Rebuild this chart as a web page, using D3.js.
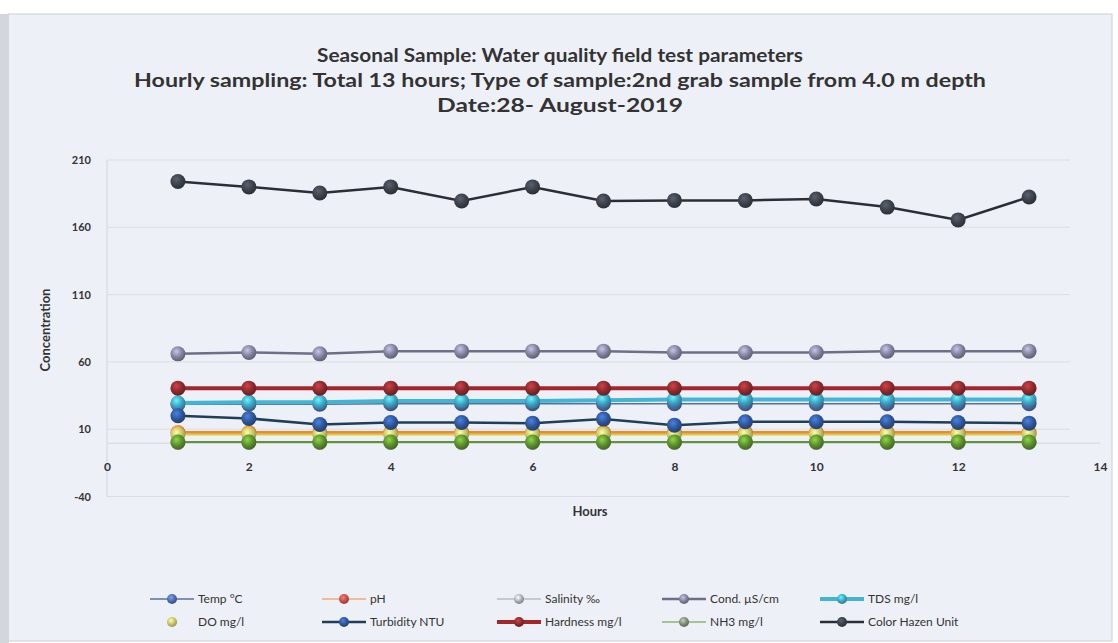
<!DOCTYPE html>
<html>
<head>
<meta charset="utf-8">
<script src="https://cdn.jsdelivr.net/npm/d3@7"></script>
<style>
  body { margin: 0; background: #ffffff; }
  text { font-family: "Lato", "Open Sans", sans-serif; fill: #333; }
</style>
</head>
<body>
<div id="chart"></div>
<script>
// chart data
var hours = [1, 2, 3, 4, 5, 6, 7, 8, 9, 10, 11, 12, 13];
var tempC = [28.5, 28.5, 28.5, 29, 29, 29, 29, 29, 29, 29, 29, 29, 29];
var pH = [7.5, 7.5, 7.5, 7.5, 7.5, 7.5, 7.5, 7.5, 7.5, 7.5, 7.5, 7.5, 7.5];
var salinity = [0.1, 0.1, 0.1, 0.1, 0.1, 0.1, 0.1, 0.1, 0.1, 0.1, 0.1, 0.1, 0.1];
var cond = [66, 67, 66, 68, 68, 68, 68, 67, 67, 67, 68, 68, 68];
var tds = [29.5, 30, 30, 31, 31, 31, 31.5, 32, 32, 32, 32, 32, 32];
var dissolvedO = [6, 6, 6, 6, 6, 6, 6, 6, 6, 6, 6, 6, 6];
var turbidity = [20, 18, 13.5, 15, 15, 14.5, 17.5, 13, 15.5, 15.5, 15.5, 15, 14.5];
var hardness = [40.5, 40.5, 40.5, 40.5, 40.5, 40.5, 40.5, 40.5, 40.5, 40.5, 40.5, 40.5, 40.5];
var nh3 = [0.5, 0.5, 0.5, 0.5, 0.5, 0.5, 0.5, 0.5, 0.5, 0.5, 0.5, 0.5, 0.5];
var colorHazen = [194, 190, 185.5, 190, 179.5, 190, 179.5, 180, 180, 181, 175, 165.5, 182.5];

var xTicks = [0, 2, 4, 6, 8, 10, 12, 14];
var yTicks = [-40, 10, 60, 110, 160, 210];

var titleLines = [
  "Seasonal Sample: Water quality field test parameters",
  "Hourly sampling: Total 13 hours; Type of sample:2nd grab sample from 4.0 m depth",
  "Date:28- August-2019"
];

// series list, drawn in this order (later on top)
var series = [
  { name: "Temp \u00b0C", values: tempC, line: "#5b6f99", marker: "#4f6aa6", width: 1.5 },
  { name: "pH", values: pH, line: "#f0892e", marker: "#f0892e", width: 3, legendMarker: "#c0504d", legendWidth: 1.2 },
  { name: "Salinity \u2030", values: salinity, line: "#b8bcc2", marker: "#a9adb3", width: 1.5 },
  { name: "Cond. \u00b5S/cm", values: cond, line: "#6e6f86", marker: "#80819a", width: 2.5 },
  { name: "TDS mg/l", values: tds, line: "#43b5d4", marker: "#3fa2c4", width: 4 },
  { name: "DO mg/l", values: dissolvedO, line: "#d6cf45", marker: "#c5c26a", width: 2, legendWidth: 0 },
  { name: "Turbidity NTU", values: turbidity, line: "#1f3f58", marker: "#2f5597", width: 2.5 },
  { name: "Hardness mg/l", values: hardness, line: "#a3262b", marker: "#8a2a2e", width: 4 },
  { name: "NH3 mg/l", values: nh3, line: "#5f9630", marker: "#5b8d2c", width: 2, legendMarker: "#7d8a78", legendWidth: 1.2 },
  { name: "Color Hazen Unit", values: colorHazen, line: "#2a2e36", marker: "#3b4049", width: 2.5 }
];

var svgWidth = 1118;
var svgHeight = 643;

var plot = { left: 107, right: 1100, top: 160, bottom: 496.5 };

var svg = d3.select("#chart")
  .append("svg")
  .attr("width", svgWidth)
  .attr("height", svgHeight);

// marker gradients, one per colour
var defs = svg.append("defs");
function gradId(c) { return "g" + c.replace("#", ""); }
var markerColors = [];
series.forEach(function(s) {
  [s.marker, s.legendMarker || s.marker].forEach(function(c) {
    if (markerColors.indexOf(c) < 0) markerColors.push(c);
  });
});
markerColors.forEach(function(c) {
  var g = defs.append("radialGradient")
    .attr("id", gradId(c))
    .attr("cx", "40%").attr("cy", "35%").attr("r", "65%");
  g.append("stop").attr("offset", "0%").attr("stop-color", d3.color(c).brighter(1.2));
  g.append("stop").attr("offset", "60%").attr("stop-color", c);
  g.append("stop").attr("offset", "100%").attr("stop-color", d3.color(c).darker(0.8));
});

// background panel
svg.append("rect")
  .attr("x", 8).attr("y", 14)
  .attr("width", 1104).attr("height", 627)
  .attr("fill", "#edf1f7")
  .attr("stroke", "#c9ced6");
svg.append("rect")
  .attr("x", 0).attr("y", 14)
  .attr("width", 9).attr("height", 629)
  .attr("fill", "#d3d6da");

// scales
var x = d3.scaleLinear().domain([0, 14]).range([plot.left, plot.right]);
var y = d3.scaleLinear().domain([-40, 210]).range([plot.bottom, plot.top]);

// gridlines
svg.append("g")
  .selectAll("line")
  .data(yTicks)
  .enter()
  .append("line")
  .attr("x1", plot.left)
  .attr("x2", plot.right - 30)
  .attr("y1", d => y(d))
  .attr("y2", d => y(d))
  .attr("stroke", "#d8dee6")
  .attr("stroke-width", 1);

// y axis (labels only, left of the plot)
var leftAxis = d3.axisLeft(y).tickValues(yTicks).tickSize(0).tickPadding(14)
  .tickFormat(d => String(d));
var yAxis = svg.append("g")
  .attr("transform", `translate(${plot.left - 2}, 0)`)
  .call(leftAxis);
yAxis.select(".domain").remove();
yAxis.selectAll("text")
  .attr("font-size", 11)
  .attr("font-weight", "bold")
  .attr("fill", "#3a3a3a")
  .style("font-family", "Lato, sans-serif");

// vertical axis line
svg.append("line")
  .attr("x1", plot.left).attr("x2", plot.left)
  .attr("y1", plot.top).attr("y2", plot.bottom)
  .attr("stroke", "#d0d6de");

// x axis crossing at zero
var bottomAxis = d3.axisBottom(x).tickValues(xTicks).tickSize(0).tickPadding(20);
var xAxis = svg.append("g")
  .attr("transform", `translate(0, ${y(0)})`)
  .call(bottomAxis);
xAxis.select(".domain").attr("stroke", "#d0d6de");
xAxis.selectAll("text")
  .attr("font-size", 12)
  .attr("font-weight", "bold")
  .attr("fill", "#3a3a3a")
  .style("font-family", "Lato, sans-serif");

// lines and markers
var lineGen = d3.line()
  .x((d, i) => x(hours[i]))
  .y(d => y(d));

series.forEach(function(s) {
  var g = svg.append("g");
  g.append("path")
    .datum(s.values)
    .attr("d", lineGen)
    .attr("fill", "none")
    .attr("stroke", s.line)
    .attr("stroke-width", s.width);
  g.selectAll("circle")
    .data(s.values)
    .enter()
    .append("circle")
    .attr("cx", (d, i) => x(hours[i]))
    .attr("cy", d => y(d))
    .attr("r", 7.5)
    .attr("fill", "url(#" + gradId(s.marker) + ")");
});

// titles
var titleWidths = [486, 852, 246];
svg.append("g")
  .selectAll("text")
  .data(titleLines)
  .enter()
  .append("text")
  .attr("x", 560)
  .attr("y", (d, i) => 62 + i * 25)
  .attr("text-anchor", "middle")
  .attr("font-size", 18)
  .attr("font-weight", "bold")
  .attr("fill", "#1e1e1e")
  .attr("textLength", (d, i) => titleWidths[i])
  .attr("lengthAdjust", "spacingAndGlyphs")
  .text(d => d);

// axis titles
svg.append("text")
  .attr("x", 590)
  .attr("y", 516)
  .attr("text-anchor", "middle")
  .attr("font-size", 13)
  .attr("font-weight", "bold")
  .attr("fill", "#333")
  .text("Hours");

svg.append("text")
  .attr("transform", "translate(50, 330) rotate(-90)")
  .attr("text-anchor", "middle")
  .attr("font-size", 13)
  .attr("font-weight", "bold")
  .attr("fill", "#333")
  .text("Concentration");

// legend, 2 rows x 5 columns
var legendCols = [150, 322, 497, 662, 820];
var legendRows = [599, 622];
var legend = svg.append("g");
series.forEach(function(s, i) {
  var lx = legendCols[i % 5];
  var ly = legendRows[Math.floor(i / 5)];
  var item = legend.append("g").attr("transform", `translate(${lx}, ${ly})`);
  var lw = s.legendWidth !== undefined ? s.legendWidth : s.width;
  if (lw > 0) {
    item.append("line")
      .attr("x1", 0).attr("x2", 44)
      .attr("y1", 0).attr("y2", 0)
      .attr("stroke", s.line)
      .attr("stroke-width", lw);
  }
  item.append("circle")
    .attr("cx", 22).attr("cy", 0)
    .attr("r", 5)
    .attr("fill", "url(#" + gradId(s.legendMarker || s.marker) + ")");
  item.append("text")
    .attr("x", 48)
    .attr("y", 4)
    .attr("font-size", 12)
    .attr("fill", "#333")
    .text(s.name);
});
</script>
</body>
</html>
